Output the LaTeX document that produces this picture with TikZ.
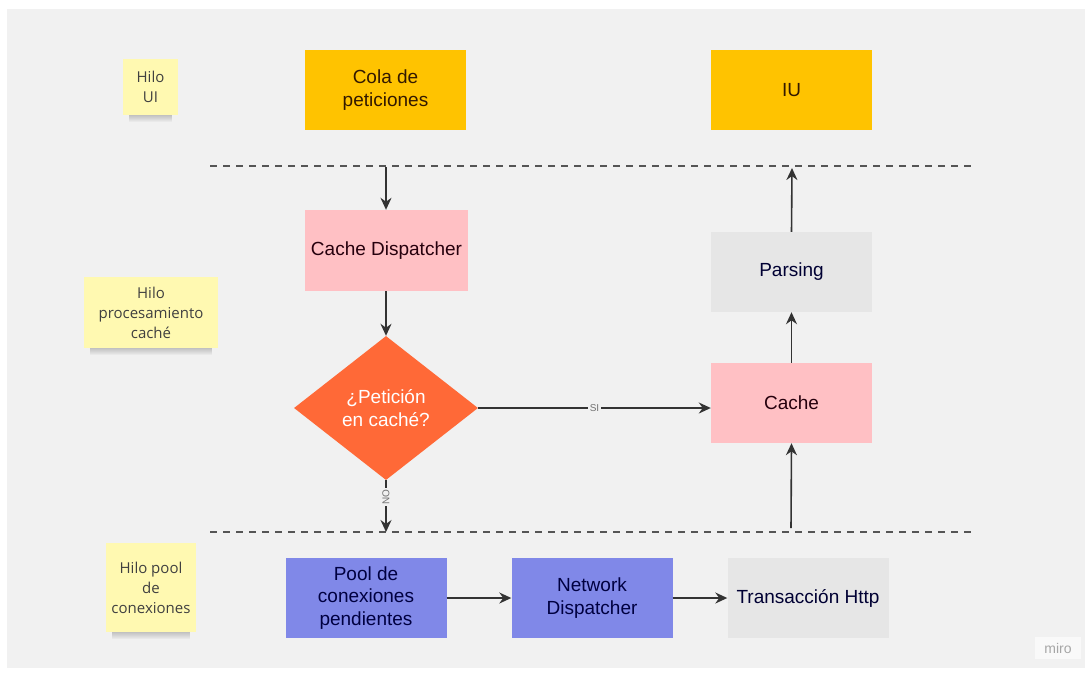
\documentclass[tikz,border=0pt]{standalone}
\usepackage{fontspec}
\setmainfont{Liberation Sans}
\newfontfamily\notefont{Open Sans}
\usetikzlibrary{shapes.geometric,arrows.meta,fadings,backgrounds,calc}

\definecolor{canvas}{HTML}{F1F1F1}
\definecolor{noteyellow}{HTML}{FFF9B1}
\definecolor{gold}{HTML}{FFC300}
\definecolor{rose}{HTML}{FFC0C4}
\definecolor{lightgray}{HTML}{E6E6E6}
\definecolor{periwinkle}{HTML}{8088E8}
\definecolor{tomato}{HTML}{FF6937}
\definecolor{ink}{HTML}{333333}
\definecolor{dashgray}{HTML}{555555}

\tikzset{
  x=1pt, y=-1pt,
  note/.style={fill=noteyellow, text=black!75, font=\notefont\fontsize{15}{20}\selectfont,
    align=center, inner sep=0pt},
  noteshadow/.style={fill=black, opacity=0.3, path fading=south},
  box/.style={minimum width=161pt, minimum height=80pt, inner sep=2pt, align=center,
    font=\fontsize{19}{22.5}\selectfont},
  goldbox/.style={box, fill=gold, text=black!80!orange},
  rosebox/.style={box, fill=rose, text=black!80!purple},
  graybox/.style={box, fill=lightgray, text=black!80!blue},
  bluebox/.style={box, fill=periwinkle, text=black!75!blue},
  decision/.style={diamond, fill=tomato, text=white, align=center, inner sep=0pt,
    minimum width=184pt, minimum height=144pt, font=\fontsize{19}{22.5}\selectfont},
  flow/.style={draw=ink, line width=1.6pt, -{Stealth[length=12pt,width=11pt]}},
  lane/.style={draw=dashgray, line width=1.4pt, dash pattern=on 7pt off 6pt},
  tag/.style={fill=canvas, text=black!55, inner sep=1.5pt, font=\fontsize{10}{10}\selectfont},
}

\begin{document}
\begin{tikzpicture}
  \useasboundingbox (0,0) rectangle (1091,673);

  % thread labels (sticky notes)
  \node[note, minimum width=55pt, minimum height=56pt] (nui) at (150.5,87) {Hilo\\UI};
  \node[note, minimum width=134pt, minimum height=71pt] (nproc) at (151,312.5) {Hilo\\procesamiento\\caché};
  \node[note, minimum width=90pt, minimum height=89pt] (npool) at (151,587.5) {Hilo pool\\de\\conexiones};

  % page, canvas and the soft shadows under the notes
  \begin{scope}[on background layer]
    \fill[white] (0,0) rectangle (1091,673);
    \fill[canvas] (7,9) rectangle (1085,668);
    \foreach \n in {nui,nproc,npool}
      \fill[noteshadow] ($(\n.south west)+(6,-4)$) rectangle ($(\n.south east)+(-6,7)$);
  \end{scope}

  % lane separators
  \coordinate (l1a) at (210,166);
  \coordinate (l1b) at (975,166);
  \coordinate (l2a) at (210,532);
  \coordinate (l2b) at (975,532);
  \draw[lane] (l1a) -- (l1b);
  \draw[lane] (l2a) -- (l2b);

  % process boxes
  \node[goldbox] (cola) at (385.5,90) {Cola de\\peticiones};
  \node[goldbox] (iu) at (791.5,90) {IU};
  \node[rosebox, minimum width=163pt, minimum height=81pt] (cdisp) at (386.5,250.5) {Cache Dispatcher};
  \node[graybox] (parsing) at (791.5,272) {Parsing};
  \node[decision] (check) at (386,408) {¿Petición\\en caché?};
  \node[rosebox] (cache) at (791.5,403) {Cache};
  \node[bluebox] (pool) at (366,598) {Pool de\\conexiones\\pendientes};
  \node[bluebox] (ndisp) at (592,598) {Network\\Dispatcher};
  \node[graybox] (http) at (808,598) {Transacción Http};

  % connector ends on the lane separators
  \coordinate (inq) at (386,167);
  \coordinate (nohit) at (386,532);
  \coordinate (toui) at (792,168);
  \coordinate (fromnet) at (791,528);

  % connectors
  \draw[flow] (inq) -- (inq |- cdisp.north);
  \draw[flow] (cdisp.south -| inq) -- (check.north);
  \draw[flow] (check.east) -- node[tag] {SI} (check.east -| cache.west);
  \draw[flow] (check.south) -- node[tag, rotate=90, pos=0.33] {NO} (nohit);
  \draw[flow] (cache.north) -- (parsing.south);
  \draw[flow] (parsing.north) -- (toui);
  \draw[flow] (fromnet) -- (cache.south);
  \draw[flow] (pool.east) -- (ndisp.west);
  \draw[flow] (ndisp.east) -- (http.west);

  % board watermark
  \node[fill=white!60!canvas, text=black!35, minimum width=46pt, minimum height=22pt,
        font=\fontsize{14}{14}\selectfont] (brand) at (1058,648) {miro};
\end{tikzpicture}
\end{document}
